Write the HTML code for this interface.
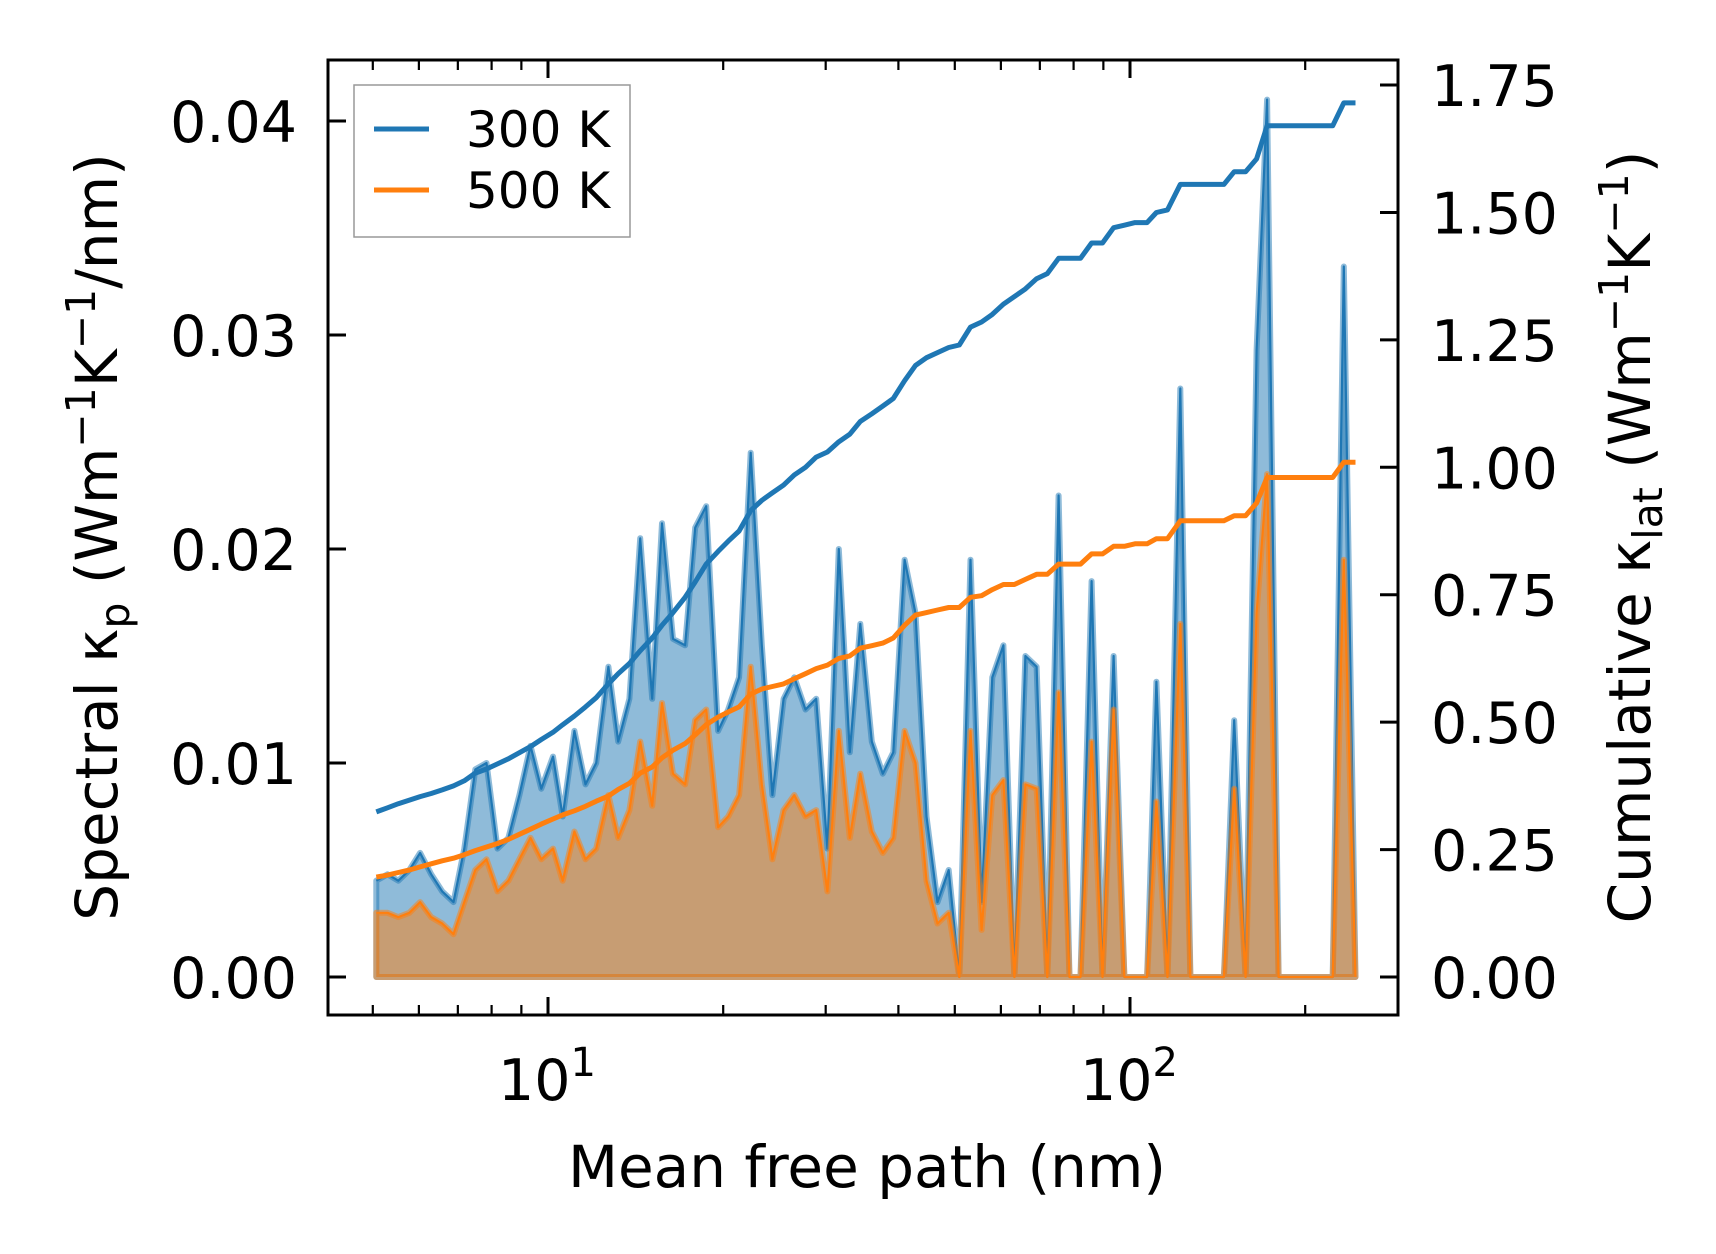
<!DOCTYPE html>
<html><head><meta charset="utf-8"><style>
html,body{margin:0;padding:0;background:#fff}
svg{display:block;font-family:"DejaVu Sans","Liberation Sans",sans-serif}
</style></head><body>
<svg id="c" width="1716" height="1254" viewBox="0 0 1716 1254"></svg>
<script>
const mfp=[5.07,5.30,5.53,5.78,6.03,6.30,6.58,6.88,7.18,7.50,7.84,8.19,8.55,8.93,9.33,9.74,10.2,10.6,11.1,11.6,12.1,12.7,13.2,13.8,14.4,15.1,15.7,16.4,17.2,17.9,18.7,19.6,20.4,21.3,22.3,23.3,24.3,25.4,26.5,27.7,28.9,30.2,31.6,33.0,34.4,36.0,37.6,39.2,41.0,42.8,44.7,46.7,48.8,50.9,53.2,55.6,58.0,60.6,63.3,66.1,69.1,72.1,75.4,78.7,82.2,85.9,89.7,93.7,97.8,102,107,111,116,122,127,133,138,145,151,158,165,172,180,188,196,205,214,223,233,244];
const spec300=[0.0045,0.0048,0.0045,0.005,0.0058,0.0048,0.004,0.0035,0.006,0.0097,0.010,0.006,0.0065,0.0085,0.0108,0.0088,0.0103,0.0075,0.0115,0.009,0.0100,0.0145,0.0110,0.0130,0.0205,0.0130,0.0212,0.0158,0.0155,0.0210,0.0220,0.0115,0.0125,0.0140,0.0245,0.0155,0.0085,0.0130,0.0140,0.0125,0.0130,0.0060,0.0200,0.0105,0.0165,0.0110,0.0095,0.0105,0.0195,0.0170,0.0075,0.0035,0.0050,0,0.0195,0.0035,0.0140,0.0155,0,0.0150,0.0145,0,0.0225,0,0,0.0185,0,0.0150,0,0,0,0.0138,0,0.0275,0,0,0,0,0.0120,0,0.0293,0.041,0,0,0,0,0,0,0.0332,0];
const spec500=[0.0030,0.0030,0.0028,0.0030,0.0035,0.0028,0.0025,0.0020,0.0035,0.0050,0.0055,0.0040,0.0045,0.0055,0.0065,0.0055,0.0060,0.0045,0.0068,0.0055,0.0060,0.0085,0.0065,0.0078,0.0110,0.0080,0.0128,0.0095,0.0090,0.0120,0.0125,0.0070,0.0075,0.0085,0.0145,0.0090,0.0055,0.0078,0.0085,0.0075,0.0078,0.0040,0.0115,0.0065,0.0095,0.0068,0.0058,0.0065,0.0115,0.0100,0.0045,0.0025,0.0030,0,0.0115,0.0022,0.0085,0.0092,0,0.0090,0.0088,0,0.0133,0,0,0.0110,0,0.0125,0,0,0,0.0082,0,0.0165,0,0,0,0,0.0088,0,0.0170,0.0235,0,0,0,0,0,0,0.0195,0];
const cum300=[0.324,0.332,0.340,0.347,0.354,0.360,0.367,0.375,0.385,0.400,0.408,0.418,0.428,0.440,0.452,0.466,0.480,0.495,0.512,0.530,0.548,0.575,0.595,0.615,0.640,0.665,0.690,0.715,0.745,0.775,0.810,0.835,0.855,0.875,0.915,0.935,0.950,0.965,0.985,1.000,1.020,1.030,1.050,1.065,1.090,1.105,1.120,1.135,1.170,1.200,1.215,1.225,1.235,1.240,1.275,1.285,1.300,1.320,1.335,1.350,1.370,1.380,1.410,1.410,1.410,1.440,1.440,1.470,1.475,1.480,1.480,1.500,1.505,1.555,1.555,1.555,1.555,1.555,1.580,1.580,1.605,1.670,1.670,1.670,1.670,1.670,1.670,1.670,1.715,1.715];
const cum500=[0.196,0.200,0.205,0.210,0.216,0.222,0.228,0.233,0.240,0.248,0.255,0.262,0.270,0.280,0.290,0.300,0.310,0.318,0.326,0.335,0.345,0.355,0.368,0.380,0.400,0.412,0.430,0.445,0.458,0.475,0.495,0.510,0.520,0.530,0.555,0.565,0.570,0.575,0.585,0.595,0.605,0.612,0.625,0.630,0.645,0.650,0.655,0.665,0.690,0.710,0.715,0.720,0.725,0.725,0.745,0.748,0.760,0.770,0.770,0.780,0.790,0.790,0.810,0.810,0.810,0.830,0.830,0.845,0.845,0.850,0.850,0.860,0.860,0.895,0.895,0.895,0.895,0.895,0.905,0.905,0.930,0.980,0.980,0.980,0.980,0.980,0.980,0.980,1.010,1.010];
const leftTicks=[0,0.01,0.02,0.03,0.04];
const leftLabels=["0.00","0.01","0.02","0.03","0.04"];
const rightTicks=[0,0.25,0.5,0.75,1.0,1.25,1.5,1.75];
const rightLabels=["0.00","0.25","0.50","0.75","1.00","1.25","1.50","1.75"];

const L=328,R=1398,T=60,B=1015;
const X=v=>548+(Math.log10(v)-1)*582;
const YL=v=>977-v*21400;
const YR=v=>977-v*509.7;
const NS="http://www.w3.org/2000/svg";
const svg=document.getElementById('c');
function mk(tag,attrs,parent){const e=document.createElementNS(NS,tag);for(const k in attrs)e.setAttribute(k,attrs[k]);(parent||svg).appendChild(e);return e;}

function area(vals,color,name){
  let d='M'+X(mfp[0])+','+YL(0);
  vals.forEach((v,i)=>{d+=' L'+X(mfp[i]).toFixed(1)+','+YL(v).toFixed(1);});
  d+=' L'+X(mfp[mfp.length-1])+','+YL(0)+' Z';
  const p=mk('path',{d:d,fill:color,'fill-opacity':0.5,stroke:color,'stroke-opacity':0.5,'stroke-width':6,'stroke-linejoin':'round'});
  
  
  let d2='';vals.forEach((v,i)=>{d2+=(i?' L':'M')+X(mfp[i]).toFixed(1)+','+YL(v).toFixed(1);});
  const l=mk('path',{d:d2,fill:'none',stroke:color,'stroke-width':2.2,'stroke-linejoin':'round'});
  
  
}
area(spec300,'#1f77b4','spectral-300k');
area(spec500,'#ff7f0e','spectral-500k');
function cline(vals,color,name){
  let d='';vals.forEach((v,i)=>{d+=(i?' L':'M')+X(mfp[i]).toFixed(1)+','+YR(v).toFixed(1);});
  const l=mk('path',{d:d,fill:'none',stroke:color,'stroke-width':5,'stroke-linejoin':'round'});
  
  
}
cline(cum300,'#1f77b4','cumulative-300k');
cline(cum500,'#ff7f0e','cumulative-500k');

const fr=mk('rect',{x:L,y:T,width:R-L,height:B-T,fill:'none',stroke:'#000','stroke-width':3});



leftTicks.forEach((v,i)=>{
  mk('line',{x1:L,x2:L+18,y1:YL(v),y2:YL(v),stroke:'#000','stroke-width':3});
  const t=mk('text',{x:297,y:YL(v)+21,'text-anchor':'end','font-size':57});
  t.textContent=leftLabels[i];
  
  
});
rightTicks.forEach((v,i)=>{
  mk('line',{x1:R-18,x2:R,y1:YR(v),y2:YR(v),stroke:'#000','stroke-width':3});
  const t=mk('text',{x:1431,y:YR(v)+21,'font-size':57});
  t.textContent=rightLabels[i];
  
  
});
[10,100].forEach((v,i)=>{
  [B,T].forEach(y0=>mk('line',{x1:X(v),x2:X(v),y1:y0,y2:y0===B?B-18:T+18,stroke:'#000','stroke-width':3}));
  const t=mk('text',{x:X(v)-1,y:1100,'text-anchor':'middle','font-size':57});
  t.textContent='10';
  const s=mk('tspan',{dy:-24,'font-size':40},t);s.textContent=i?'2':'1';
  
  
});
[5,6,7,8,9,20,30,40,50,60,70,80,90,200].forEach(v=>{
  [B,T].forEach(y0=>mk('line',{x1:X(v),x2:X(v),y1:y0,y2:y0===B?B-10:T+10,stroke:'#000','stroke-width':2.2}));
});

let t=mk('text',{x:867,y:1187,'text-anchor':'middle','font-size':58});
t.textContent='Mean free path (nm)';


t=mk('text',{transform:'translate(117,537) rotate(-90)','text-anchor':'middle','font-size':58});
t.innerHTML='Spectral κ<tspan font-size="41" dy="12">p</tspan><tspan dy="-12"> (Wm</tspan><tspan font-size="41" dy="-22">−1</tspan><tspan dy="22">K</tspan><tspan font-size="41" dy="-22">−1</tspan><tspan dy="22">/nm)</tspan>';


t=mk('text',{transform:'translate(1650,537) rotate(-90)','text-anchor':'middle','font-size':58});
t.innerHTML='Cumulative κ<tspan font-size="41" dy="12">lat</tspan><tspan dy="-12"> (Wm</tspan><tspan font-size="41" dy="-22">−1</tspan><tspan dy="22">K</tspan><tspan font-size="41" dy="-22">−1</tspan><tspan dy="22">)</tspan>';



const lg=mk('g',{});


mk('rect',{x:354,y:85,width:276,height:152,fill:'#fff','fill-opacity':0.8,stroke:'#999','stroke-width':1.5},lg);
[['300 K','#1f77b4',129],['500 K','#ff7f0e',190]].forEach(e=>{
  const g=mk('g',{},lg);
  
  
  mk('line',{x1:374,x2:429,y1:e[2],y2:e[2],stroke:e[1],'stroke-width':5},g);
  const tt=mk('text',{x:466,y:e[2]+18,'font-size':50},g);tt.textContent=e[0];
});
</script>
</body></html>
